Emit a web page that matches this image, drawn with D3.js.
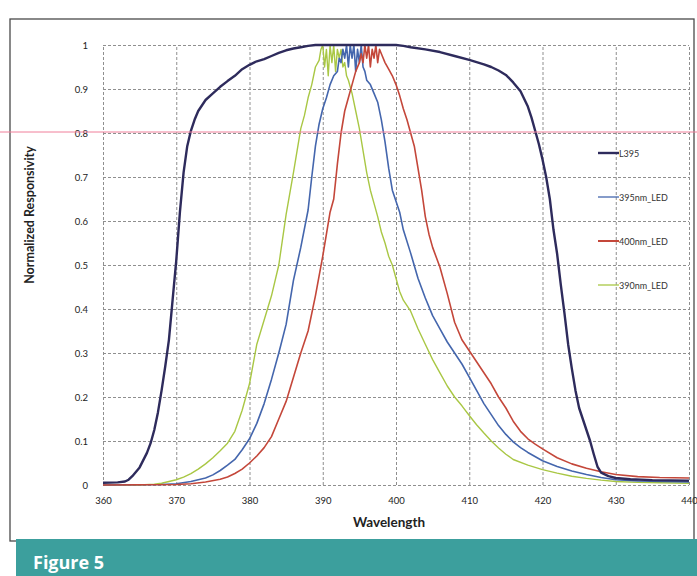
<!DOCTYPE html>
<html>
<head>
<meta charset="utf-8">
<script src="https://cdn.jsdelivr.net/npm/d3@7"></script>
<style>
  html, body { margin: 0; padding: 0; background: #fff; }
  svg { display: block; }
  .grid line { stroke: #8f8f8f; stroke-width: 1; stroke-dasharray: 3 2; }
  .grid path { display: none; }
  .tick-labels path, .tick-labels line { display: none; }
  .tick-labels text { font-family: Lato, "Liberation Sans", sans-serif; font-size: 9.5px; fill: #222; }
</style>
</head>
<body>
<svg id="chart" width="697" height="576"></svg>
<script>
// Wavelength axis ticks (nm) and responsivity ticks
const xTicks = [360, 370, 380, 390, 400, 410, 420, 430, 440];
const yTicks = [0, 0.1, 0.2, 0.3, 0.4, 0.5, 0.6, 0.7, 0.8, 0.9, 1];

const seriesNames = ["L395", "395nm_LED", "400nm_LED", "390nm_LED"];

// [wavelength nm, normalized responsivity]
const l395 = [
  [360,0.005],[362,0.006],[363,0.008],[363.5,0.012],[364,0.02],[365,0.04],[366,0.073],
  [366.5,0.095],[367,0.125],[367.5,0.165],[368,0.215],[368.5,0.27],[369,0.33],[369.5,0.42],
  [370,0.51],[370.5,0.62],[371,0.71],[371.5,0.77],[372,0.805],[372.5,0.83],[373,0.85],
  [374,0.875],[375,0.89],[376,0.905],[377,0.918],[378,0.93],[379,0.945],[380,0.955],
  [381,0.963],[382,0.968],[383,0.975],[384,0.982],[385,0.988],[386,0.992],[387,0.995],
  [388,0.998],[389,1.0],[392,1.0],[395,1.0],[398,1.0],[400,1.0],[401,0.998],[402,0.995],
  [404,0.99],[406,0.984],[408,0.975],[410,0.966],[412,0.956],[413,0.95],[414,0.942],
  [415,0.932],[416,0.915],[417,0.895],[418,0.86],[418.5,0.835],[419,0.805],[419.5,0.775],
  [420,0.74],[420.5,0.70],[421,0.65],[421.5,0.58],[422,0.525],[422.5,0.455],[423,0.39],
  [423.5,0.32],[424,0.265],[424.5,0.215],[425,0.175],[425.5,0.15],[426,0.125],[426.5,0.1],
  [427,0.07],[427.5,0.042],[428,0.028],[429,0.02],[430,0.016],[432,0.013],[435,0.011],[440,0.01]
];

const led395 = [
  [360,0],[368,0.001],[370,0.003],[372,0.008],[374,0.016],[375,0.023],[376,0.033],[377,0.045],
  [378,0.058],[379,0.08],[380,0.105],[381,0.14],[382,0.185],[383,0.24],[384,0.3],[385,0.365],
  [386,0.465],[387,0.54],[388,0.625],[388.5,0.7],[389,0.77],[389.5,0.82],[390,0.855],
  [390.5,0.88],[391,0.91],[391.5,0.93],[392,0.94],[392.25,0.97],[392.5,0.96],[392.75,0.99],
  [393,0.97],[393.25,1.0],[393.5,0.95],[393.75,1.0],[394,0.97],[394.25,1.0],[394.5,0.94],
  [394.75,0.99],[395,0.96],[395.25,1.0],[395.5,0.95],[395.75,0.94],[396,0.92],[396.5,0.91],
  [397,0.89],[397.5,0.87],[398,0.83],[398.5,0.78],[399,0.72],[399.5,0.67],[400,0.645],
  [400.5,0.62],[401,0.58],[402,0.527],[403,0.47],[404,0.425],[405,0.385],[406,0.355],
  [407,0.325],[408,0.3],[409,0.275],[410,0.245],[411,0.215],[412,0.185],[413,0.16],
  [414,0.135],[415,0.115],[416,0.098],[417,0.085],[418,0.074],[420,0.055],[422,0.042],
  [424,0.032],[426,0.024],[428,0.017],[430,0.012],[433,0.009],[440,0.007]
];

const led400 = [
  [360,0],[370,0.001],[372,0.003],[374,0.007],[376,0.013],[377,0.018],[378,0.026],[379,0.036],
  [380,0.05],[381,0.066],[382,0.085],[383,0.11],[384,0.15],[385,0.19],[386,0.245],[387,0.3],
  [388,0.35],[389,0.43],[390,0.52],[391,0.62],[391.5,0.65],[392,0.73],[392.5,0.8],[393,0.85],
  [393.5,0.88],[394,0.91],[394.5,0.94],[395,0.96],[395.25,0.98],[395.5,0.96],[395.75,1.0],
  [396,0.97],[396.25,1.0],[396.5,0.95],[396.75,0.99],[397,0.97],[397.25,1.0],[397.5,0.96],
  [397.75,0.99],[398,0.98],[398.5,0.96],[399,0.945],[399.5,0.93],[400,0.91],[400.5,0.885],
  [401,0.855],[401.5,0.83],[402,0.8],[402.5,0.77],[403,0.72],[403.5,0.67],[404,0.61],
  [404.5,0.57],[405,0.54],[406,0.495],[407,0.435],[408,0.37],[409,0.33],[410,0.305],
  [411,0.28],[412,0.255],[413,0.23],[414,0.2],[415,0.175],[416,0.145],[417,0.122],
  [418,0.105],[419,0.093],[420,0.082],[422,0.062],[424,0.048],[426,0.038],[428,0.03],
  [430,0.024],[433,0.019],[436,0.017],[440,0.016]
];

const led390 = [
  [360,0],[365,0],[367,0.002],[368,0.004],[369,0.008],[370,0.012],[371,0.018],[372,0.026],
  [373,0.036],[374,0.048],[375,0.062],[376,0.078],[377,0.095],[378,0.122],[379,0.17],
  [379.5,0.2],[380,0.23],[381,0.32],[382,0.375],[383,0.43],[384,0.5],[385,0.615],[386,0.71],
  [387,0.81],[387.5,0.84],[388,0.88],[388.5,0.91],[389,0.95],[389.5,0.965],[389.75,0.99],
  [390,1.0],[390.25,0.95],[390.5,0.99],[390.75,0.93],[391,1.0],[391.25,0.96],[391.5,1.0],
  [391.75,0.94],[392,0.99],[392.25,0.97],[392.5,0.99],[392.75,0.95],[393,0.96],[393.25,0.93],
  [393.5,0.92],[394,0.89],[394.5,0.85],[395,0.81],[395.5,0.76],[396,0.71],[396.5,0.67],
  [397,0.64],[397.5,0.61],[398,0.575],[398.5,0.55],[399,0.52],[399.5,0.5],[400,0.47],
  [400.5,0.44],[401,0.42],[402,0.395],[403,0.355],[404,0.32],[405,0.285],[406,0.255],
  [407,0.225],[408,0.2],[409,0.18],[410,0.158],[411,0.137],[412,0.118],[413,0.1],
  [414,0.084],[415,0.07],[416,0.058],[418,0.045],[420,0.035],[422,0.027],[424,0.02],
  [426,0.015],[428,0.011],[430,0.008],[433,0.006],[436,0.005],[440,0.004]
];

const seriesData = [l395, led395, led400, led390];
const seriesColors = ["#2e2b5c", "#4466ad", "#c4473a", "#a9c744"];
const seriesWidths = [2.4, 1.6, 1.6, 1.4];

const svg = d3.select("#chart");
const W = 697, H = 576;

// page background
svg.append("rect").attr("width", W).attr("height", H).attr("fill", "#ffffff");

// outer chart frame
svg.append("rect")
  .attr("x", 10).attr("y", 19).attr("width", 684).attr("height", 522)
  .attr("fill", "#fff").attr("stroke", "#4a4a4a").attr("stroke-width", 1.3);

const x = d3.scaleLinear().domain([360, 440]).range([103, 689]);
const y = d3.scaleLinear().domain([0, 1]).range([485, 45]);

// grid
svg.append("g").attr("class", "grid")
  .attr("transform", `translate(0,${y(0)})`)
  .call(d3.axisBottom(x).tickValues(xTicks).tickSize(-(y(0) - y(1))).tickFormat(""));
svg.append("g").attr("class", "grid")
  .attr("transform", `translate(${x(360)},0)`)
  .call(d3.axisLeft(y).tickValues(yTicks).tickSize(-(x(440) - x(360))).tickFormat(""));

// tick labels
svg.append("g").attr("class", "tick-labels")
  .attr("transform", `translate(${x(360) - 6},0)`)
  .call(d3.axisLeft(y).tickValues(yTicks).tickSize(0).tickPadding(9)
    .tickFormat(d => d3.format("~g")(d)));
svg.append("g").attr("class", "tick-labels")
  .attr("transform", `translate(0,${y(0) + 8})`)
  .call(d3.axisBottom(x).tickValues(xTicks).tickSize(0).tickPadding(4));

// curves
const line = d3.line().x(d => x(d[0])).y(d => y(d[1])).curve(d3.curveLinear);
const order = [3, 1, 2, 0];
order.forEach(i => {
  svg.append("path")
    .datum(seriesData[i])
    .attr("fill", "none")
    .attr("stroke", seriesColors[i])
    .attr("stroke-width", seriesWidths[i])
    .attr("stroke-linejoin", "round")
    .attr("d", line);
});

// legend
const legend = svg.append("g").attr("transform", "translate(598,153)");
seriesNames.forEach((name, i) => {
  const g = legend.append("g").attr("transform", `translate(0,${i * 44})`);
  g.append("line").attr("x1", 0).attr("x2", 21).attr("y1", 0).attr("y2", 0)
    .attr("stroke", seriesColors[i]).attr("stroke-width", i === 0 ? 2.4 : (i === 2 ? 2 : 1.3));
  g.append("text").attr("x", 21).attr("y", 3.5)
    .attr("font-family", "Lato, 'Liberation Sans', sans-serif")
    .attr("font-size", 9).attr("fill", "#333").text(name);
});

// axis titles
svg.append("text")
  .attr("transform", `translate(34,215) rotate(-90)`)
  .attr("text-anchor", "middle")
  .attr("font-family", "Lato, 'Liberation Sans', sans-serif")
  .attr("font-weight", "bold").attr("font-size", 12.5).attr("fill", "#222")
  .text("Normalized Responsivity");
svg.append("text")
  .attr("x", 389).attr("y", 527).attr("text-anchor", "middle")
  .attr("font-family", "Lato, 'Liberation Sans', sans-serif")
  .attr("font-weight", "bold").attr("font-size", 13.5).attr("fill", "#222")
  .text("Wavelength");

// pink rule across the page
svg.append("line").attr("x1", 0).attr("x2", W).attr("y1", 132).attr("y2", 132)
  .attr("stroke", "#f07f9a").attr("stroke-width", 1);

// caption band
svg.append("rect").attr("x", 16).attr("y", 539).attr("width", W - 16).attr("height", H - 539)
  .attr("fill", "#3c9f9d");
svg.append("text").attr("x", 33).attr("y", 569)
  .attr("font-family", "'Open Sans', sans-serif").attr("font-weight", "bold")
  .attr("font-size", 18).attr("fill", "#ffffff").text("Figure 5");
</script>
</body>
</html>
